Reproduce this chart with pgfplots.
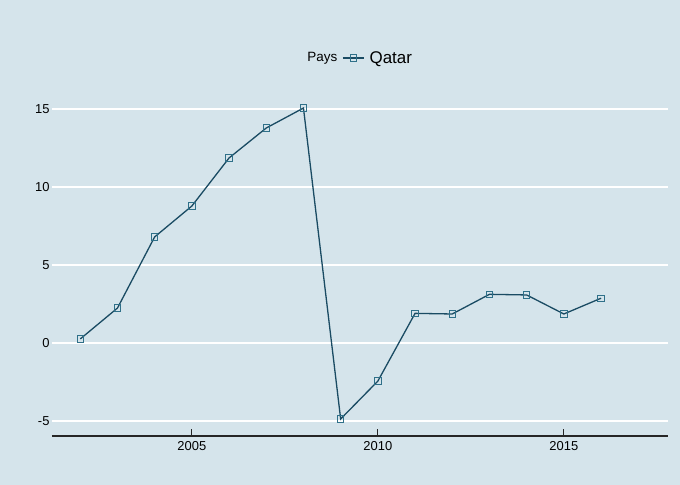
\documentclass[border=0pt]{standalone}
\usepackage{pgfplots}
\pgfplotsset{compat=1.18}
\usepackage{fontspec}
\setmainfont{Liberation Sans}
\definecolor{bg}{HTML}{D5E4EB}
\definecolor{ln}{HTML}{1A4B63}
\definecolor{mk}{HTML}{2F7089}
\begin{document}
\begin{tikzpicture}[x=1bp,y=1bp]
\fill[bg] (-52,-49) rectangle (628,436);
\useasboundingbox (-52,-49) rectangle (628,436);
\begin{axis}[
  at={(0,0)}, anchor=south west,
  scale only axis, width=616bp, height=339.5bp,
  xmin=2001.24, xmax=2017.8,
  ymin=-5.96, ymax=15.8,
  axis line style={draw=none},
  axis x line*=bottom,
  axis y line*=left,
  xtick={2005,2010,2015},
  ytick={-5,0,5,10,15},
  xticklabel style={font=\fontsize{13}{15}\selectfont, yshift=-1.5bp},
  yticklabel style={font=\fontsize{13}{15}\selectfont, xshift=1bp},
  /pgf/number format/assume math mode=true,
  /pgf/number format/1000 sep={},
  x tick style={draw=black!85, line width=1.2bp},
  major tick length=7bp,
  xtick align=inside,
  y tick style={draw=none},
  ymajorgrids, grid style={white, line width=2.2bp},
  legend style={draw=none, fill=none, at={(0.4995,1.113)}, anchor=center,
    font=\fontsize{17}{19}\selectfont,
    /tikz/every even column/.append style={column sep=3bp}},
  legend image code/.code={\draw[mark repeat=2,mark phase=2,#1] plot coordinates {(0bp,0bp) (10.5bp,0bp) (21bp,0bp)};},
  legend columns=2,
  legend cell align=left,
  clip=false,
]
\draw[black!85, line width=1.6bp] (rel axis cs:0,0) -- (rel axis cs:1,0);
\addlegendimage{empty legend}
\addlegendentry{\fontsize{13.5}{15}\selectfont Pays}
\addplot[ln, line width=1.3bp, mark=square, mark size=3.2bp,
  mark options={draw=mk, line width=1bp}] coordinates {
(2002,0.26) (2003,2.24) (2004,6.80) (2005,8.78) (2006,11.86) (2007,13.78)
(2008,15.06) (2009,-4.87) (2010,-2.44) (2011,1.90) (2012,1.86) (2013,3.12)
(2014,3.08) (2015,1.86) (2016,2.87)
};
\addlegendentry{\hspace{3bp}Qatar}
\end{axis}
\end{tikzpicture}
\end{document}
